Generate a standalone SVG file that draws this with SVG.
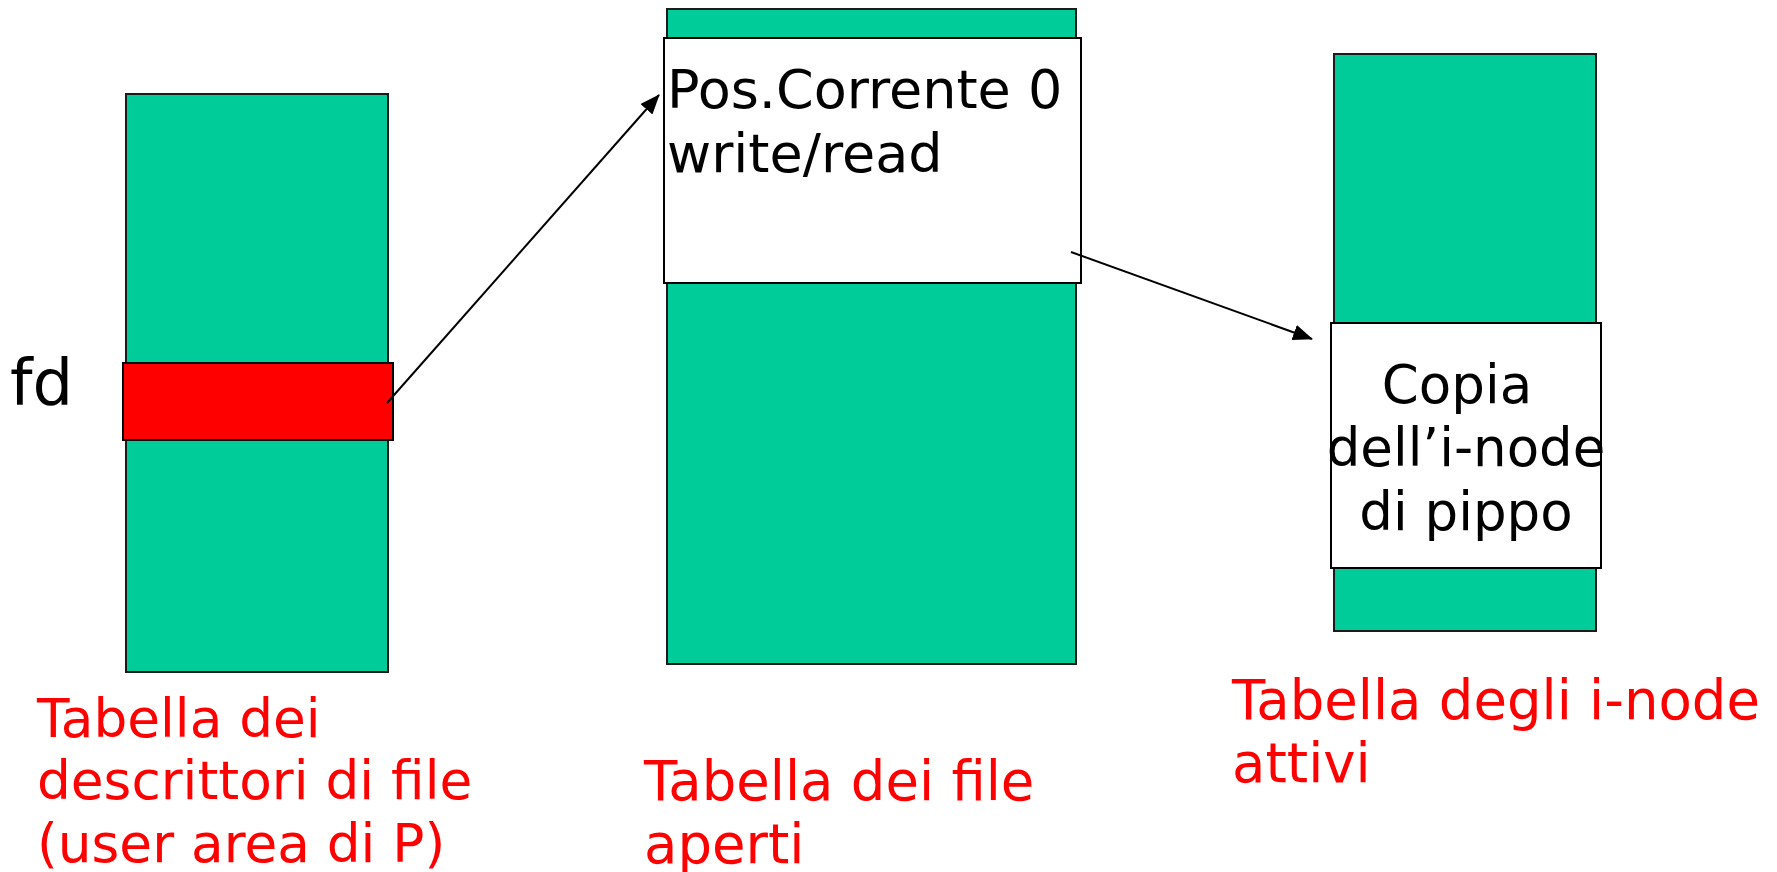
<svg xmlns="http://www.w3.org/2000/svg" width="1777" height="872" viewBox="0 0 1777 872">
<style>
.tbl{fill:#00CC99;stroke:#1a1a1a;stroke-width:2}
.box{fill:#FFFFFF;stroke:#000;stroke-width:2}
.sel{fill:#FF0000;stroke:#000;stroke-width:2}
.t{font-family:"DejaVu Sans",Verdana,sans-serif;font-size:54px;fill:#000}
.r{font-family:"DejaVu Sans",Verdana,sans-serif;font-size:54.5px;fill:#FF0000}
.conn{stroke:#000;stroke-width:2;fill:none;marker-end:url(#ah)}
</style>
<defs>
<marker id="ah" markerUnits="userSpaceOnUse" markerWidth="20" markerHeight="16" refX="19" refY="8" orient="auto">
<path d="M0,0 L20,8 L0,16 Z" fill="#000"/>
</marker>
</defs>
<rect width="1777" height="872" fill="#FFFFFF"/>
<g id="fd-table">
<rect class="tbl" x="126" y="94" width="262" height="578"/>
<rect class="sel" x="123" y="363" width="270" height="77"/>
<text class="t" x="10" y="405" style="font-size:64px">fd</text>
<text class="r" x="37" y="737" style="font-size:53.3px">Tabella dei</text>
<text class="r" x="37" y="799" style="font-size:53.3px">descrittori di file</text>
<text class="r" x="37" y="862" style="font-size:53.3px">(user area di P)</text>
</g>
<g id="open-files-table">
<rect class="tbl" x="667" y="9" width="409" height="655"/>
<rect class="box" x="664" y="38" width="417" height="245"/>
<text class="t" x="667" y="108">Pos.Corrente 0</text>
<text class="t" x="667" y="172">write/read</text>
<text class="r" x="644" y="800">Tabella dei file</text>
<text class="r" x="644" y="863">aperti</text>
</g>
<g id="inode-table">
<rect class="tbl" x="1334" y="54" width="262" height="577"/>
<rect class="box" x="1331" y="323" width="270" height="245"/>
<text class="t" x="1457" y="403" text-anchor="middle" style="font-size:53px">Copia</text>
<text class="t" x="1466" y="466" text-anchor="middle" style="font-size:53px">dell’i-node</text>
<text class="t" x="1466" y="530" text-anchor="middle" style="font-size:53px">di pippo</text>
<text class="r" x="1232" y="719">Tabella degli i-node</text>
<text class="r" x="1232" y="782">attivi</text>
</g>
<g id="connectors">
<line class="conn" x1="387" y1="403" x2="659" y2="95"/>
<line class="conn" x1="1071" y1="252" x2="1312" y2="339"/>
</g>
</svg>
